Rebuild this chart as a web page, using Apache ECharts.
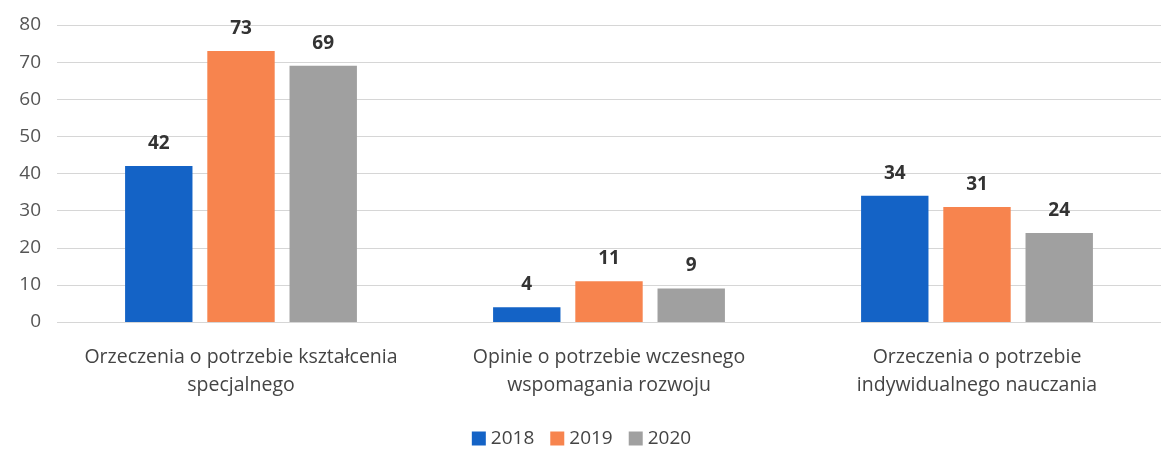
<!DOCTYPE html>
<html>
<head>
<meta charset="utf-8">
<script src="https://cdn.jsdelivr.net/npm/echarts@6/dist/echarts.min.js"></script>
<style>
  html, body { margin: 0; padding: 0; background: #fff; }
  #main { width: 1163px; height: 453px; }
</style>
</head>
<body>
<div id="main"></div>
<script>
var categories = [
  'Orzeczenia o potrzebie kształcenia\nspecjalnego',
  'Opinie o potrzebie wczesnego\nwspomagania rozwoju',
  'Orzeczenia o potrzebie\nindywidualnego nauczania'
];
var years = ['2018', '2019', '2020'];
var values2018 = [42, 4, 34];
var values2019 = [73, 11, 31];
var values2020 = [69, 9, 24];

var myChart = echarts.init(document.getElementById('main'));

var colors = ['#1463C6', '#F7844E', '#A0A0A0'];
var seriesData = [values2018, values2019, values2020];

var option = {
  color: colors,
  textStyle: { fontFamily: 'Open Sans' },
  grid: { left: 57, right: 2, top: 25, bottom: 131 },
  legend: {
    bottom: 0,
    left: 'center',
    itemWidth: 14,
    itemHeight: 14,
    itemGap: 16,
    icon: 'rect',
    textStyle: { fontSize: 19, color: '#444' },
    data: years
  },
  xAxis: {
    type: 'category',
    data: categories,
    axisLine: { show: false },
    axisTick: { show: false },
    axisLabel: { interval: 0, hideOverlap: false, fontSize: 19.5, color: '#444', lineHeight: 28, margin: 21 }
  },
  yAxis: {
    type: 'value',
    min: 0,
    max: 80,
    interval: 10,
    axisLabel: { fontSize: 19, color: '#555', margin: 16 },
    splitLine: { lineStyle: { color: '#d6d6d6', width: 1 } }
  },
  series: seriesData.map(function (d, i) {
    return {
      name: years[i],
      type: 'bar',
      data: d,
      barGap: '22%',
      barCategoryGap: '37%',
      label: {
        show: true,
        position: 'top',
        distance: 13,
        fontSize: 19,
        fontWeight: 'bold',
        color: '#333'
      }
    };
  })
};

myChart.setOption(option);
</script>
</body>
</html>
